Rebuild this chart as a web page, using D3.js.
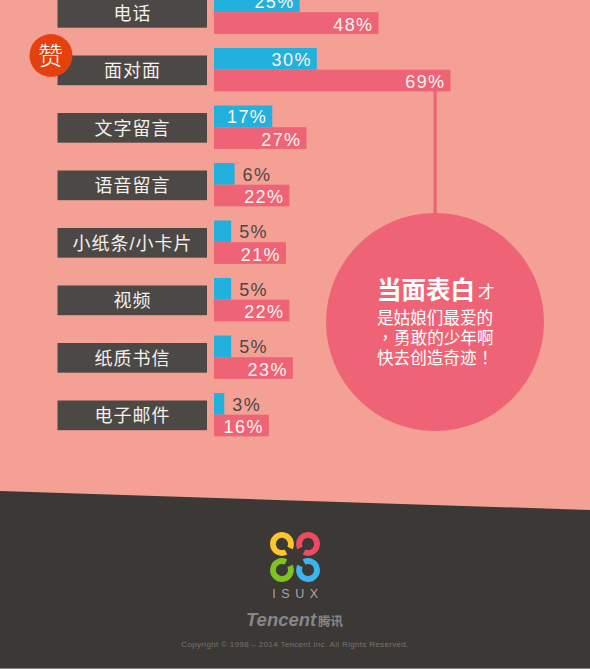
<!DOCTYPE html>
<html><head><meta charset="utf-8">
<script src="https://cdn.jsdelivr.net/npm/d3@7/dist/d3.min.js"></script>
<style>
@font-face{font-family:"PunctCentered";src:local("Noto Sans CJK TC");unicode-range:U+FF01,U+FF0C}
html,body{margin:0;padding:0;background:#f5a095;overflow:hidden}svg{display:block}
text{font-family:"Liberation Sans","Noto Sans CJK SC",sans-serif}
text.cjk{font-family:"PunctCentered","Noto Sans CJK SC",sans-serif}</style></head>
<body><div id="chart"></div>
<script>
const categories = ["电话","面对面","文字留言","语音留言","小纸条/小卡片","视频","纸质书信","电子邮件"];
const blueValues = [25,30,17,6,5,5,5,3];
const pinkValues = [48,69,27,22,21,22,23,16];
const calloutLines = ["是姑娘们最爱的","，勇敢的少年啊","快去创造奇迹！"];
const logoColors = ["#fcc62d","#ee4a62","#7ec421","#3cb4ee"];

const W=590,H=669;
const svg=d3.select("#chart").append("svg").attr("width",W).attr("height",H);
svg.append("rect").attr("width",W).attr("height",H).attr("fill","#f5a095");

const x=d3.scaleLinear().domain([0,69]).range([214,450.5]);
const y=d3.scaleLinear().domain([0,categories.length]).range([-9.5,450.5]);
const barH=21.7;
const C1="#22b1dc",C2="#ee6476",DK="#4c4845";

svg.append("rect").attr("x",433.5).attr("width",3.2).attr("y",90).attr("height",130).attr("fill",C2);
svg.append("circle").attr("cx",435).attr("cy",322).attr("r",109).attr("fill",C2);

const rows=svg.selectAll("g.row").data(categories).join("g").attr("class","row");
rows.append("rect").attr("x",57.5).attr("width",149.5).attr("y",(d,i)=>y(i)+7.5).attr("height",29.7).attr("fill",DK);
rows.append("text").attr("x",132.5).attr("y",(d,i)=>y(i)+29).attr("text-anchor","middle")
  .attr("fill","#f4f0ec").attr("font-size",18).attr("letter-spacing",1).text(d=>d);
rows.append("rect").attr("x",x(0)).attr("y",(d,i)=>y(i)).attr("height",barH).attr("fill",C1)
  .attr("width",(d,i)=>x(blueValues[i])-x(0));
rows.append("rect").attr("x",x(0)).attr("y",(d,i)=>y(i)+barH).attr("height",barH).attr("fill",C2)
  .attr("width",(d,i)=>x(pinkValues[i])-x(0));
rows.append("text").attr("font-size",18).attr("letter-spacing",1.4)
  .attr("y",(d,i)=>y(i)+17.5)
  .attr("x",(d,i)=>blueValues[i]<10? x(blueValues[i])+8 : x(blueValues[i])-5)
  .attr("text-anchor",(d,i)=>blueValues[i]<10?"start":"end")
  .attr("fill",(d,i)=>blueValues[i]<10?"#4c4845":"#fdf3f0")
  .text((d,i)=>blueValues[i]+"%");
rows.append("text").attr("font-size",18).attr("letter-spacing",1.4)
  .attr("y",(d,i)=>y(i)+40).attr("x",(d,i)=>x(pinkValues[i])-5).attr("text-anchor","end")
  .attr("fill","#fdf3f0").text((d,i)=>pinkValues[i]+"%");

svg.append("circle").attr("cx",51).attr("cy",55.5).attr("r",21.5).attr("fill","#e5410f");
svg.append("text").attr("class","cjk").attr("x",50.5).attr("y",64.5).attr("text-anchor","middle").attr("fill","#fff").attr("font-size",25).attr("font-weight",300).text("赞");

const t=svg.append("g").attr("fill","#fff");
t.append("text").attr("class","cjk").attr("x",377).attr("y",299).attr("font-size",24.5).attr("font-weight",700).text("当面表白");
t.append("text").attr("class","cjk").attr("x",478).attr("y",298).attr("font-size",16.5).text("才");
t.selectAll("text.l").data(calloutLines).join("text").attr("class","l cjk").attr("x",377)
  .attr("y",(d,i)=>323.5+i*20.3).attr("font-size",16.6).text(d=>d);

svg.append("path").attr("d",`M0,491L590,510L590,${H}L0,${H}Z`).attr("fill","#3c3835");
svg.append("rect").attr("y",668).attr("width",W).attr("height",1).attr("fill","#8a8885");

const lg=svg.append("g").attr("transform","translate(295,557)");
[[1,1],[-1,1],[1,-1],[-1,-1]].forEach((s,i)=>{
  lg.append("path").attr("transform",`scale(${s[0]},${s[1]})`)
    .attr("d","M-5,-9 A9,9 0 1 0 -9,-5")
    .attr("fill","none").attr("stroke",logoColors[i]).attr("stroke-width",5.8);
});
svg.append("text").attr("x",298).attr("y",598).attr("text-anchor","middle").attr("fill","#a8a6a3").attr("font-size",12.5).attr("letter-spacing",5.6).text("ISUX");
svg.append("text").attr("x",246).attr("y",626).attr("fill","#85878a").attr("font-size",18.5).attr("font-weight",700).attr("font-style","italic").text("Tencent");
svg.append("text").attr("class","cjk").attr("x",318).attr("y",626).attr("fill","#85878a").attr("font-size",12.5).attr("font-weight",700).text("腾讯");
svg.append("text").attr("x",295).attr("y",647).attr("text-anchor","middle").attr("fill","#77746f").attr("font-size",8).attr("letter-spacing",.33).text("Copyright © 1998 – 2014 Tencent Inc. All Rights Reserved.");
</script></body></html>
